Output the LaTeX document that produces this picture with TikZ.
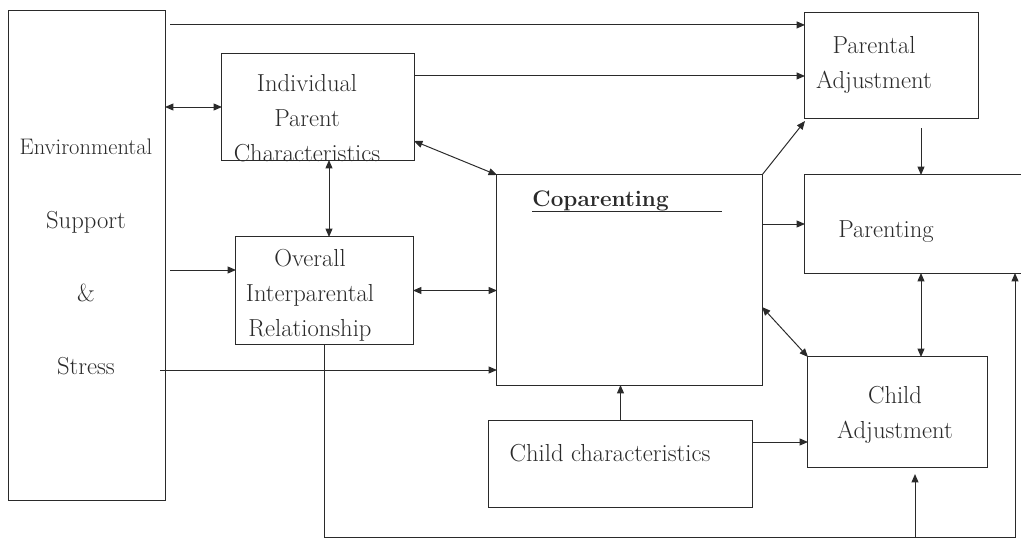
\documentclass[tikz,border=0pt]{standalone}
\usetikzlibrary{arrows.meta, calc}
\definecolor{ink}{HTML}{2A2A2A}

\begin{document}
\begin{tikzpicture}[x=0.025cm, y=-0.025cm, >={Triangle[length=6pt, width=5pt]},
  line width=0.7pt, color=ink,
  box/.style={draw, rectangle, inner sep=0pt, outer sep=0pt},
  lbl/.style={align=center, inner sep=0pt, font=\fontsize{17.5}{25}\selectfont}]

\useasboundingbox (0,0) rectangle (1021,539);
\clip (0,0) rectangle (1021,539);

% Boxes
\node[box, minimum width=3.9cm, minimum height=12.225cm] (env) at (87,255.5) {};
\node[box, minimum width=4.8cm, minimum height=2.65cm] (ipc) at (318,107) {};
\node[box, minimum width=4.425cm, minimum height=2.675cm] (oir) at (324.5,290.5) {};
\node[box, minimum width=6.625cm, minimum height=5.25cm] (cop) at (629.5,280) {};
\node[box, minimum width=4.325cm, minimum height=2.625cm] (pa) at (891.5,65.5) {};
\node[box, minimum width=5.625cm, minimum height=2.45cm] (par) at (917.5,224) {};
\node[box, minimum width=4.475cm, minimum height=2.75cm] (ca) at (897.5,412) {};
\node[box, minimum width=6.575cm, minimum height=2.175cm] (cc) at (620.5,463.5) {};

% Labels
\node[lbl] (envtxt) at (86,257)
  {{\fontsize{16}{25}\selectfont Environmental}\\[27pt]Support\\[27pt]\&\\[27pt]Stress};
\node[lbl] (ipctxt) at (307,118) {Individual\\Parent\\Characteristics};
\node[lbl] (oirtxt) at (310,295) {Overall\\Interparental\\Relationship};
\node[lbl, font=\fontsize{16}{25}\selectfont\bfseries, anchor=west] (coptxt) at (532,201) {Coparenting};
\draw ([yshift=-3.5pt]coptxt.base west) -- ++(190,0);
\node[lbl] (patxt) at (874,65) {Parental\\Adjustment};
\node[lbl] (partxt) at (886,232) {Parenting};
\node[lbl] (catxt) at (895,415) {Child\\Adjustment};
\node[lbl] (cctxt) at (610,453) {Child characteristics};

% Arrows
\draw[->] ($(env.north east)+(5,14)$) coordinate (envtop) -- (envtop -| pa.west);
\draw[->] ($(ipc.north east)+(0,22)$) coordinate (ipcout) -- (ipcout -| pa.west);
\draw[<->] (env.east |- ipc.west) -- (ipc.west);
\draw[<->] ($(ipc.south)+(11,0)$) coordinate (ipcdn) -- (ipcdn |- oir.north);
\draw[<->] ($(ipc.south east)+(0,-19)$) -- (cop.north west);
\draw[->] ($(env.east)+(5,14.5)$) coordinate (envmid) -- (envmid -| oir.west);
\draw[<->] (oir.east) -- (oir.east -| cop.west);
\draw[->] ($(env.east)+(-5,114.5)$) coordinate (envlow) -- (envlow -| cop.west);
\draw[->] (cop.north east) -- ($(pa.south west)+(0,3)$);
\draw[->] (cop.east |- par.west) -- (par.west);
\draw[->] ($(pa.south)+(29.5,10)$) coordinate (padn) -- (padn |- par.north);
\draw[<->] ($(cop.east)+(0,27)$) -- (ca.north west);
\draw[<->] ($(ca.north)+(23.5,0)$) coordinate (cadn) -- (cadn |- par.south);
\draw[->] ($(cc.east)+(0,-21.5)$) coordinate (ccout) -- (ccout -| ca.west);
\draw[->] (cc.north) -- (cc.north |- cop.south);

% Feedback from the interparental relationship
\coordinate (fb) at (1015,537);
\coordinate (cabr) at ($(ca.south)+(17.5,0)$);
\draw[->] (oir.south) |- (fb) -- (fb |- par.south);
\draw[->, shorten >=5pt] (cabr |- fb) -- (cabr);

\end{tikzpicture}
\end{document}
